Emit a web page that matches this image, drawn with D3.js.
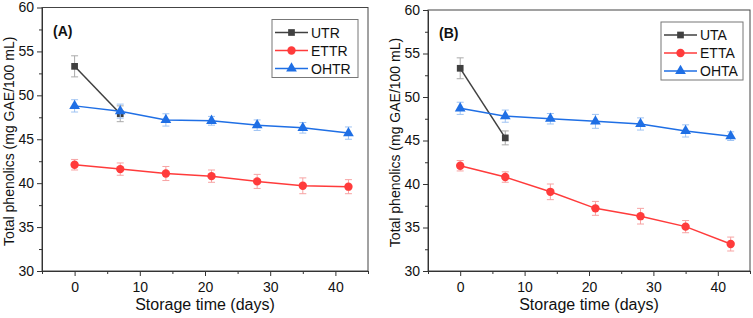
<!DOCTYPE html>
<html>
<head>
<meta charset="utf-8">
<script src="https://cdn.jsdelivr.net/npm/d3@7"></script>
<style>
  body { margin: 0; background: #fff; }
  svg { font-family: "Liberation Sans", Arial, sans-serif; }
  .axis path, .axis line { stroke: #333; }
  .axis text { font-size: 14px; fill: #111; }
</style>
</head>
<body>
<div class="graph"></div>
<script>
const days = [0, 7, 14, 21, 28, 35, 42];
const xTicks = [0, 10, 20, 30, 40];
const yTicks = [30, 35, 40, 45, 50, 55, 60];

// panel A
const utrVals = [53.3, 47.9];
const utrErr = [1.2, 0.9];
const ettrVals = [42.1, 41.6, 41.1, 40.8, 40.2, 39.7, 39.6];
const ettrErr = [0.6, 0.7, 0.8, 0.7, 0.8, 0.9, 0.8];
const ohtrVals = [48.8, 48.2, 47.2, 47.1, 46.6, 46.3, 45.7];
const ohtrErr = [0.7, 0.8, 0.7, 0.5, 0.6, 0.6, 0.7];

// panel B
const utaVals = [53.3, 45.3];
const utaErr = [1.2, 0.8];
const ettaVals = [42.1, 40.8, 39.1, 37.2, 36.3, 35.1, 33.1];
const ettaErr = [0.6, 0.6, 0.9, 0.8, 0.9, 0.7, 0.8];
const ohtaVals = [48.7, 47.8, 47.5, 47.2, 46.9, 46.1, 45.5];
const ohtaErr = [0.7, 0.7, 0.6, 0.8, 0.7, 0.7, 0.5];

const w = 753;
const h = 318;

const svg = d3.select('.graph')
  .append('svg')
  .attr('width', w)
  .attr('height', h);

function drawPanel(opt) {
  const xScale = d3.scaleLinear().domain([-5, 45]).range([opt.left, opt.right]);
  const yScale = d3.scaleLinear().domain([30, 60]).range([opt.bottom, opt.top]);
  const g = svg.append('g');

  // frame
  g.append('rect')
    .attr('x', opt.left)
    .attr('y', opt.top)
    .attr('width', opt.right - opt.left)
    .attr('height', opt.bottom - opt.top)
    .attr('fill', 'none')
    .attr('stroke', '#444')
    .attr('stroke-width', 1);

  // minor ticks
  g.append('g')
    .attr('class', 'axis')
    .attr('transform', `translate(0, ${opt.bottom})`)
    .call(d3.axisBottom(xScale).tickValues([-5, 5, 15, 25, 35, 45]).tickSize(3).tickFormat(''))
    .select('.domain').remove();
  g.append('g')
    .attr('class', 'axis')
    .attr('transform', `translate(${opt.left}, 0)`)
    .call(d3.axisLeft(yScale).tickValues(d3.range(32.5, 60, 5)).tickSize(3).tickFormat(''))
    .select('.domain').remove();

  g.append('g')
    .attr('class', 'axis')
    .attr('transform', `translate(0, ${opt.bottom})`)
    .call(d3.axisBottom(xScale).tickValues(xTicks).tickSize(5).tickSizeOuter(0).tickPadding(6));
  g.append('g')
    .attr('class', 'axis')
    .attr('transform', `translate(${opt.left}, 0)`)
    .call(d3.axisLeft(yScale).tickValues(yTicks).tickSize(5).tickSizeOuter(0).tickPadding(3));

  g.append('text')
    .attr('x', (opt.left + opt.right) / 2)
    .attr('y', 310)
    .attr('text-anchor', 'middle')
    .style('font-size', '16px')
    .attr('fill', '#111')
    .text('Storage time (days)');

  g.append('text')
    .attr('transform', 'rotate(-90)')
    .attr('x', -(opt.top + opt.bottom) / 2 - 2)
    .attr('y', opt.left - 28)
    .attr('text-anchor', 'middle')
    .style('font-size', '14px')
    .attr('fill', '#111')
    .text('Total phenolics (mg GAE/100 mL)');

  g.append('text')
    .attr('x', opt.left + 11)
    .attr('y', opt.top + 28)
    .style('font-size', '14px')
    .style('font-weight', 'bold')
    .attr('fill', '#111')
    .text(opt.tag);

  const line = d3.line()
    .x((d) => xScale(d.x))
    .y((d) => yScale(d.y));

  opt.series.forEach((s) => {
    const pts = s.vals.map((v, i) => ({ x: days[i], y: v, e: s.err[i] }));
    const eb = g.append('g').attr('stroke', s.errColor).attr('stroke-width', 1);
    pts.forEach((p) => {
      eb.append('line')
        .attr('x1', xScale(p.x)).attr('x2', xScale(p.x))
        .attr('y1', yScale(p.y - p.e)).attr('y2', yScale(p.y + p.e));
      [p.y - p.e, p.y + p.e].forEach((yy) => {
        eb.append('line')
          .attr('x1', xScale(p.x) - 3.5).attr('x2', xScale(p.x) + 3.5)
          .attr('y1', yScale(yy)).attr('y2', yScale(yy));
      });
    });
    g.append('path')
      .datum(pts)
      .attr('d', line)
      .attr('fill', 'none')
      .attr('stroke', s.color)
      .attr('stroke-width', 1.5);
    g.selectAll(null)
      .data(pts)
      .enter()
      .append('path')
      .attr('transform', (d) => `translate(${xScale(d.x)}, ${yScale(d.y)})`)
      .attr('d', d3.symbol().type(s.symbol).size(s.size))
      .attr('fill', s.color);
  });

  // legend
  const lg = g.append('g');
  lg.append('rect')
    .attr('x', opt.legX)
    .attr('y', opt.top + 12)
    .attr('width', opt.legW)
    .attr('height', 58)
    .attr('fill', '#fff')
    .attr('stroke', '#777')
    .attr('stroke-width', 1);
  opt.series.forEach((s, i) => {
    const yy = opt.top + 25 + i * 18;
    lg.append('line')
      .attr('x1', opt.legX + 3).attr('x2', opt.legX + 36)
      .attr('y1', yy).attr('y2', yy)
      .attr('stroke', s.color).attr('stroke-width', 1.5);
    lg.append('path')
      .attr('transform', `translate(${opt.legX + 19.5}, ${yy})`)
      .attr('d', d3.symbol().type(s.symbol).size(s.size))
      .attr('fill', s.color);
    lg.append('text')
      .attr('x', opt.legX + 39)
      .attr('y', yy + 5)
      .style('font-size', '14px')
      .attr('fill', '#111')
      .text(s.name);
  });
}

drawPanel({
  tag: '(A)', left: 42, right: 368, top: 7.5, bottom: 271, legX: 272, legW: 86,
  series: [
    { name: 'UTR', vals: utrVals, err: utrErr, color: '#404040', errColor: '#aaaaaa', symbol: d3.symbolSquare, size: 45 },
    { name: 'ETTR', vals: ettrVals, err: ettrErr, color: '#ff3b3b', errColor: '#f7a3a3', symbol: d3.symbolCircle, size: 55 },
    { name: 'OHTR', vals: ohtrVals, err: ohtrErr, color: '#1f6fe5', errColor: '#9ec3f3', symbol: d3.symbolTriangle, size: 50 }
  ]
});

drawPanel({
  tag: '(B)', left: 428, right: 750, top: 10, bottom: 271, legX: 661, legW: 82,
  series: [
    { name: 'UTA', vals: utaVals, err: utaErr, color: '#404040', errColor: '#aaaaaa', symbol: d3.symbolSquare, size: 45 },
    { name: 'ETTA', vals: ettaVals, err: ettaErr, color: '#ff3b3b', errColor: '#f7a3a3', symbol: d3.symbolCircle, size: 55 },
    { name: 'OHTA', vals: ohtaVals, err: ohtaErr, color: '#1f6fe5', errColor: '#9ec3f3', symbol: d3.symbolTriangle, size: 50 }
  ]
});
</script>
</body>
</html>
